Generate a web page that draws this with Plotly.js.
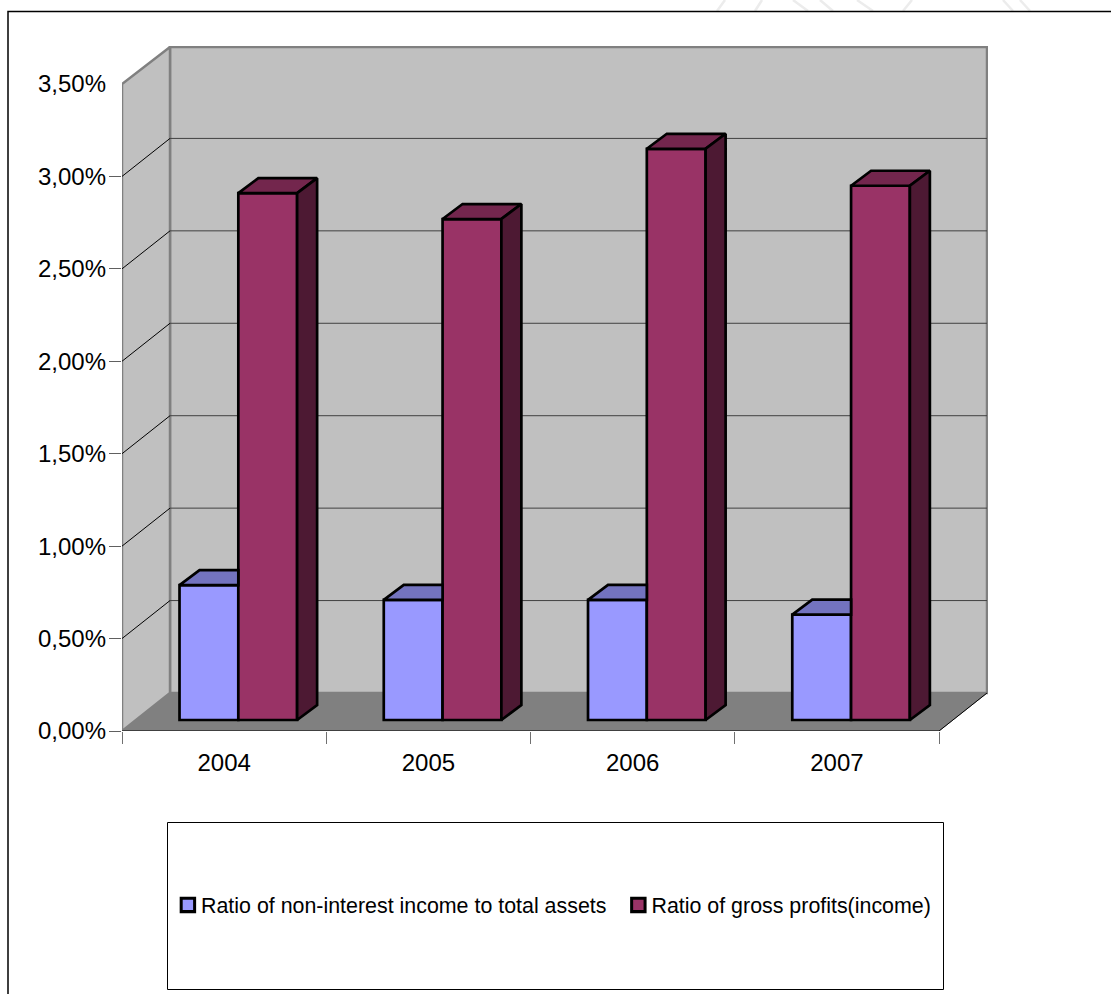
<!DOCTYPE html>
<html>
<head>
<meta charset="utf-8">
<script src="https://cdn.plot.ly/plotly-3.0.1.min.js"></script>
<style>html,body{margin:0;padding:0;background:#fff;overflow:hidden}</style>
</head>
<body>
<div id="chart" style="width:1111px;height:994px"></div>
<script>
// Data
const years = [2004, 2005, 2006, 2007];
const nonInterestIncome = [0.73, 0.65, 0.65, 0.57];
const grossProfits = [2.85, 2.71, 3.09, 2.89];
const percentTicks = [0, 0.5, 1, 1.5, 2, 2.5, 3, 3.5];
const percentLabels = ['0,00%', '0,50%', '1,00%', '1,50%', '2,00%', '2,50%', '3,00%', '3,50%'];
const nonInterestName = 'Ratio of non-interest income to total assets';
const grossProfitsName = 'Ratio of gross profits(income)';

// Plot box in pixels; the axis ranges extend past the last tick to hold the back wall
const W = 1111, H = 994;
const left = 122, right = 988, top_ = 46, bottom = 731;
const pxPerYear = 204.25, pxPerPercent = 184.86;

// Depth of the chart box and of each column, in axis units
const wallDx = 48 / pxPerYear, wallDy = 38 / pxPerPercent;
const barDx = 20 / pxPerYear, barDy = 15 / pxPerPercent;
const barBase = 11 / pxPerPercent;
const barWidth = 58.8 / pxPerYear;
const blueOffset = -44.6 / pxPerYear, redOffset = 14.2 / pxPerYear;
const edge = 2.7;

const xMin = years[0] - 0.5, xMax = xMin + (right - left) / pxPerYear;
const xFront = years[years.length - 1] + 0.5;
const yMax = (bottom - top_) / pxPerPercent;
const yTop = percentTicks[percentTicks.length - 1];

const paperX = px => (px - left) / (right - left);
const paperY = py => (bottom - py) / (bottom - top_);

const poly = (pts, fill, color, width) => ({
  type: 'path', xref: 'x', yref: 'y', layer: 'below',
  path: 'M' + pts.map(p => p.join(',')).join('L') + 'Z',
  fillcolor: fill, line: {color: color, width: width}
});
const seg = (x0, y0, x1, y1, color, width) => ({
  type: 'line', xref: 'x', yref: 'y', layer: 'below', x0, y0, x1, y1,
  line: {color, width}
});
const paperSeg = (x0, y0, x1, y1, color, width) => ({
  type: 'line', xref: 'paper', yref: 'paper', layer: 'below',
  x0: paperX(x0), y0: paperY(y0), x1: paperX(x1), y1: paperY(y1), line: {color, width}
});

// Faint strokes of the page behind the chart, above the frame
const pageStrokes = [
  [717, 11, 725, 0], [755, 11, 762, 0], [793, 0, 808, 11], [820, 0, 833, 11],
  [857, 0, 873, 11], [903, 11, 912, 0], [1003, 0, 1013, 11], [1020, 0, 1030, 11]
];
const shapes = pageStrokes.map(s => paperSeg(s[0], s[1], s[2], s[3], '#ececec', 2.5));

// Walls, floor and gridlines of the box
const inset = 1 / pxPerYear;
shapes.push(
  poly([[xMin + wallDx, wallDy], [xMax - inset, wallDy], [xMax - inset, yMax - 1 / pxPerPercent], [xMin + wallDx, yMax - 1 / pxPerPercent]], '#c0c0c0', '#808080', 2.5),
  poly([[xMin, 0], [xMin + wallDx, wallDy], [xMin + wallDx, yMax - 1 / pxPerPercent], [xMin, yTop]], '#c0c0c0', '#808080', 2.5),
  poly([[xMin, 0], [xMin + wallDx, wallDy], [xMax - inset, wallDy], [xFront, 0]], '#808080', '#808080', 1),
  seg(xMin, 0, xFront, 0, '#000000', 1),
  seg(xFront, 0, xMax - inset, wallDy, '#000000', 1)
);
percentTicks.filter(v => v > 0 && v < yTop).forEach(v => {
  shapes.push(seg(xMin, v, xMin + wallDx, v + wallDy, '#000000', 1));
  shapes.push(seg(xMin + wallDx, v + wallDy, xMax - inset, v + wallDy, '#404040', 1));
});

// Frame around the whole chart and the box around the legend
shapes.push({type: 'rect', xref: 'paper', yref: 'paper', layer: 'below',
  x0: paperX(8), x1: paperX(W + 20), y0: paperY(H + 20), y1: paperY(11.5),
  fillcolor: 'rgba(0,0,0,0)', line: {color: '#000000', width: 1.5}});
shapes.push({type: 'rect', xref: 'paper', yref: 'paper', layer: 'below',
  x0: paperX(167.5), x1: paperX(943.5), y0: paperY(989.5), y1: paperY(822.5),
  fillcolor: '#ffffff', line: {color: '#000000', width: 1}});

// Front faces are true bars lifted off the front edge of the floor
const barTrace = (name, values, offset, color) => ({
  type: 'bar', name, x: years, y: values,
  base: values.map(() => barBase), offset, width: barWidth,
  marker: {color, line: {color: '#000000', width: edge}}
});

// Polygons for the top and side faces, joined by gaps into one trace
const faces = (polys, fillcolor) => {
  const x = [], y = [];
  polys.forEach(p => {
    p.forEach(q => { x.push(q[0]); y.push(q[1]); });
    x.push(p[0][0], null); y.push(p[0][1], null);
  });
  return {type: 'scatter', mode: 'lines', x, y, fill: 'toself', fillcolor,
    line: {color: '#000000', width: edge}, showlegend: false, hoverinfo: 'skip'};
};

const blueTops = years.map((yr, i) => {
  const x0 = yr + blueOffset, x1 = x0 + barWidth, v = nonInterestIncome[i] + barBase;
  return [[x0, v], [x1, v], [x1, v + barDy], [x0 + barDx, v + barDy]];
});
const redTops = years.map((yr, i) => {
  const x0 = yr + redOffset, x1 = x0 + barWidth, v = grossProfits[i] + barBase;
  return [[x0, v], [x1, v], [x1 + barDx, v + barDy], [x0 + barDx, v + barDy]];
});
const redSides = years.map((yr, i) => {
  const x1 = yr + redOffset + barWidth, v = grossProfits[i] + barBase;
  return [[x1, barBase], [x1, v], [x1 + barDx, v + barDy], [x1 + barDx, barBase + barDy]];
});

const traces = [
  barTrace(nonInterestName, nonInterestIncome, blueOffset, '#9999ff'),
  barTrace(grossProfitsName, grossProfits, redOffset, '#993366'),
  faces(blueTops, '#7373bf'),
  faces(redTops, '#73264d'),
  faces(redSides, '#4d1933')
];

const font = {family: '"Liberation Sans", Arial, sans-serif', color: '#000000'};

const layout = {
  width: W, height: H,
  margin: {l: left, r: W - right, t: top_, b: H - bottom, pad: 0},
  paper_bgcolor: '#ffffff', plot_bgcolor: 'rgba(0,0,0,0)',
  barmode: 'overlay',
  font: Object.assign({size: 24}, font),
  shapes,
  xaxis: {
    type: 'linear', range: [xMin, xMax], tickvals: years, ticktext: years.map(String),
    ticks: '', showgrid: false, zeroline: false, showline: false,
    ticklabelstandoff: 15,
    tickfont: Object.assign({size: 24}, font),
    minor: {tickmode: 'array', tickvals: years.map(y => y - 0.5).concat(xFront),
      ticks: 'outside', ticklen: 12, tickcolor: '#707070', tickwidth: 1, showgrid: false}
  },
  yaxis: {
    type: 'linear', range: [0, yMax], tickvals: percentTicks, ticktext: percentLabels,
    ticks: '', showgrid: false, zeroline: false, showline: false,
    ticklabelstandoff: 15,
    tickfont: Object.assign({size: 24}, font),
    minor: {tickmode: 'array', tickvals: percentTicks.filter(v => v < yTop),
      ticks: 'outside', ticklen: 12, tickcolor: '#606060', tickwidth: 1, showgrid: false}
  },
  showlegend: true,
  legend: {
    orientation: 'h', x: paperX(161), y: paperY(905), xanchor: 'left', yanchor: 'middle',
    bgcolor: 'rgba(0,0,0,0)', borderwidth: 0, traceorder: 'normal',
    font: Object.assign({size: 21.4}, font)
  }
};

Plotly.newPlot('chart', traces, layout, {displayModeBar: false, responsive: false}).then(gd => {
  // Pull each legend swatch in towards its label and enlarge it a little
  gd.querySelectorAll('.legend .legendsymbols').forEach(g => {
    g.setAttribute('transform', 'translate(4.5,0) scale(1.12)');
  });
});
</script>
</body>
</html>
